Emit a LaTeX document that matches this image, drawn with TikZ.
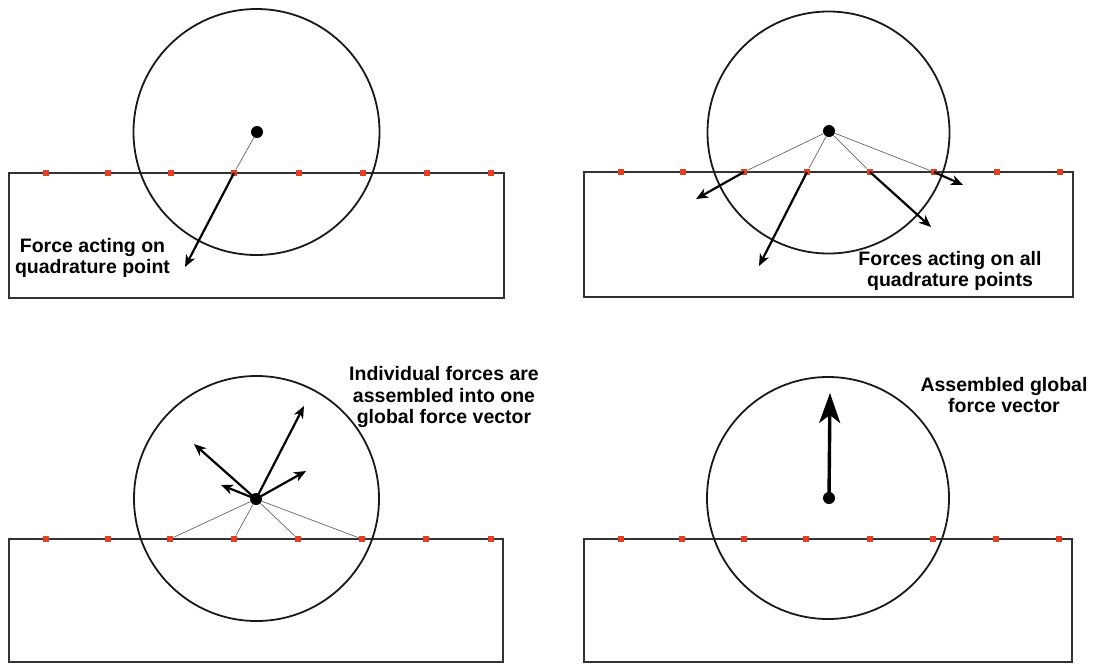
\documentclass[tikz,border=0pt]{standalone}
\usepackage{fontspec}
\setmainfont{Liberation Sans}
\usetikzlibrary{arrows.meta}
\definecolor{qpred}{HTML}{E2401F}
\tikzset{
 block/.style={draw=black!80, line width=1.5pt},
 wheel/.style={circle, draw=black!90, line width=1.8pt, inner sep=0pt},
 qp/.style={rectangle, fill=qpred, minimum size=6.5pt, inner sep=0pt},
 hub/.style={circle, fill=black, minimum size=12pt, inner sep=0pt},
 spoke/.style={draw=black!60, line width=0.7pt},
 force/.style={draw=black, line width=2.2pt, -{Stealth[length=12pt,width=10pt,inset=3.5pt]}},
 bigforce/.style={draw=black, line width=3.4pt, -{Stealth[length=30pt,width=21pt,inset=8pt]}},
 lbl/.style={font=\bfseries\fontsize{19.5}{21.5}\selectfont, align=center, inner sep=0pt}
}
\begin{document}
\begin{tikzpicture}[x=1pt,y=-1pt]
\useasboundingbox (0,0) rectangle (1099,665);
% ---------- Panel A ----------
\draw[block] (9,173) rectangle (504,298);
\node[wheel, minimum size=246pt] (cA) at (256.5,132) {};
\foreach \x [count=\i] in {46,108,171,234,299,363,427,491}
  \node[qp] (A\i) at (\x,173) {};
\node[hub] (hA) at (257,132) {};
\draw[spoke] (hA) -- (A4);
\coordinate (fA) at (185,267);
\draw[force] (A4.center) -- (fA);
\node[lbl] (tA) at (92.5,258) {Force acting on\\quadrature point};
% ---------- Panel B ----------
\draw[block] (584,172) rectangle (1073,297);
\node[wheel, minimum size=242pt] (cB) at (828.5,132.5) {};
\foreach \x [count=\i] in {621,683,744,807,870,934,997,1060}
  \node[qp] (B\i) at (\x,172) {};
\node[hub] (hB) at (829,131) {};
\foreach \i in {3,4,5,6} \draw[spoke] (hB) -- (B\i);
\coordinate (fB3) at (696,199);
\coordinate (fB4) at (759,266);
\coordinate (fB5) at (931,227);
\coordinate (fB6) at (963,185);
\foreach \i in {3,4,5,6} \draw[force] (B\i.center) -- (fB\i);
\node[lbl] (tB) at (950,271) {Forces acting on all\\quadrature points};
% ---------- Panel C ----------
\draw[block] (9,539) rectangle (503,662);
\node[wheel, minimum size=245pt] (cC) at (256.5,498.5) {};
\foreach \x [count=\i] in {46,108,170,234,298,362,426,491}
  \node[qp] (C\i) at (\x,539) {};
\node[hub] (hC) at (256,499) {};
\foreach \i in {3,4,5,6} \draw[spoke] (hC) -- (C\i);
\coordinate (fC1) at (304,406);
\coordinate (fC2) at (194,444);
\coordinate (fC3) at (221,485);
\coordinate (fC4) at (306,471);
\foreach \i in {1,2,3,4} \draw[force] (hC.center) -- (fC\i);
\node[lbl] (tC) at (444,397) {Individual forces are\\assembled into one\\global force vector};
% ---------- Panel D ----------
\draw[block] (584,539) rectangle (1072,662);
\node[wheel, minimum size=242pt] (cD) at (828,498) {};
\foreach \x [count=\i] in {621,682,744,806,870,933,996,1059}
  \node[qp] (D\i) at (\x,539) {};
\node[hub] (hD) at (829,498) {};
\coordinate (fD) at (830,393);
\draw[bigforce] (hD.center) -- (fD);
\node[lbl] (tD) at (1004,395) {Assembled global\\force vector};
\end{tikzpicture}
\end{document}
